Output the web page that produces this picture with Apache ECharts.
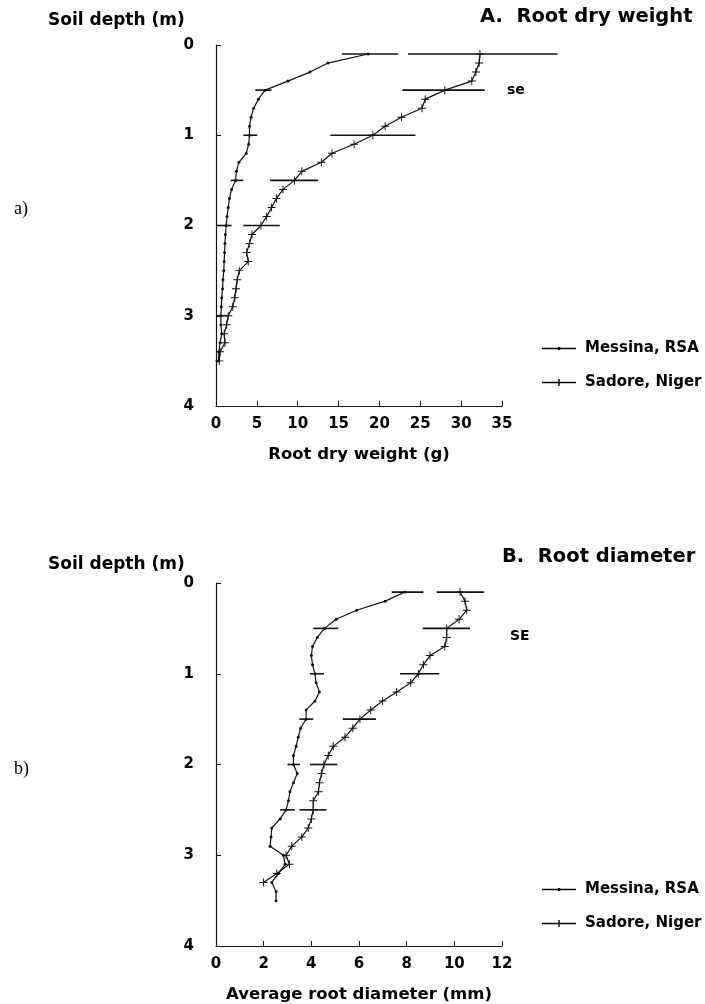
<!DOCTYPE html>
<html>
<head>
<meta charset="utf-8">
<script src="https://cdn.jsdelivr.net/npm/echarts@6/dist/echarts.min.js"></script>
<style>
  html, body { margin: 0; padding: 0; background: #fff; }
  #main { width: 705px; height: 1004px; }
</style>
</head>
<body>
<div id="main"></div>
<script>
// 深度 (m)
const depthMessinaA = [0.1,0.2,0.3,0.4,0.5,0.6,0.7,0.8,0.9,1.0,1.1,1.2,1.3,1.4,1.5,1.6,1.7,1.8,1.9,2.0,2.1,2.2,2.3,2.4,2.5,2.6,2.7,2.8,2.9,3.0,3.1,3.2,3.3,3.4,3.5]
const weightMessina = [18.6,13.7,11.5,8.8,6.0,5.2,4.6,4.3,4.1,4.1,4.0,3.7,2.8,2.5,2.4,1.9,1.65,1.5,1.35,1.25,1.15,1.1,1.05,1.0,0.95,0.85,0.8,0.7,0.65,0.6,0.6,0.7,0.5,0.35,0.3]
const depthSadoreA = [0.1,0.2,0.3,0.4,0.5,0.6,0.7,0.8,0.9,1.0,1.1,1.2,1.3,1.4,1.5,1.6,1.7,1.8,1.9,2.0,2.1,2.2,2.3,2.4,2.5,2.6,2.7,2.8,2.9,3.0,3.1,3.2,3.3,3.4,3.5]
const weightSadore = [32.3,32.2,31.8,31.3,28.0,25.6,25.2,22.7,20.7,19.2,16.9,14.2,12.9,10.5,9.6,8.2,7.4,6.8,6.2,5.5,4.4,4.1,3.75,3.95,2.85,2.6,2.45,2.3,2.05,1.5,1.3,1.0,1.1,0.5,0.4]

// se：[深度, 下限, 上限]
const seWeightMessina = [[0.1,15.4,22.3],[0.5,4.8,6.8],[1.0,3.35,5.05],[1.5,1.8,3.35],[2.0,0,1.9],[3.0,0,1.5]]
const seWeightSadore = [[0.1,23.5,41.8],[0.5,22.8,32.9],[1.0,14.0,24.4],[1.5,6.6,12.5],[2.0,3.35,7.8]]

const depthMessinaB = [0.1,0.2,0.3,0.4,0.5,0.6,0.7,0.8,0.9,1.0,1.1,1.2,1.3,1.4,1.5,1.6,1.7,1.8,1.9,2.0,2.1,2.2,2.3,2.4,2.5,2.6,2.7,2.8,2.9,3.0,3.1,3.2,3.3,3.4,3.5]
const diamMessina = [7.93,7.1,5.9,5.04,4.55,4.25,4.05,4.0,4.05,4.15,4.2,4.34,4.15,3.78,3.78,3.55,3.45,3.36,3.25,3.25,3.41,3.25,3.1,3.04,2.94,2.69,2.34,2.31,2.27,2.83,2.9,2.62,2.34,2.52,2.52]
const depthSadoreB = [0.1,0.2,0.3,0.4,0.5,0.6,0.7,0.8,0.9,1.0,1.1,1.2,1.3,1.4,1.5,1.6,1.7,1.8,1.9,2.0,2.1,2.2,2.3,2.4,2.5,2.6,2.7,2.8,2.9,3.0,3.1,3.2,3.3]
const diamSadore = [10.24,10.45,10.52,10.2,9.68,9.68,9.6,8.98,8.7,8.49,8.17,7.58,6.99,6.49,6.04,5.74,5.41,4.92,4.71,4.53,4.43,4.34,4.3,4.08,4.08,4.0,3.87,3.6,3.18,2.94,3.08,2.55,1.99]

const seDiamMessina = [[0.1,7.37,8.7],[0.5,4.08,5.13],[1.0,3.94,4.53],[1.5,3.5,4.08],[2.0,3.0,3.52],[2.5,2.69,3.31]]
const seDiamSadore = [[0.1,9.26,11.25],[0.5,8.67,10.66],[1.0,7.72,9.37],[1.5,5.32,6.71],[2.0,3.94,5.09],[2.5,3.5,4.64]]

const depthTicks = [0, 1, 2, 3, 4]

const ink = '#111'
const font = 'DejaVu Sans, Liberation Sans, sans-serif'
const serif = 'Liberation Serif, Times New Roman, serif'
const crossSymbol = 'path://M0,4.4H10V5.6H0Z M4.4,0H5.6V10H4.4Z'
// 图例图标：细线 + 小点 / 小十字
const legendDotIcon = 'path://M0,3.3H34V4.7H0Z M16,2.6H18.2V5.4H16Z'
const legendCrossIcon = 'path://M0,3.3H34V4.7H0Z M16.3,0.5H17.7V7.5H16.3Z'

const pairs = (depths, vals) => depths.map((d, i) => [vals[i], d])

const myChart = echarts.init(document.getElementById('main'))

const yAxisBase = (gridIndex) => ({
  gridIndex,
  type: 'value',
  inverse: true,
  min: 0,
  max: 4,
  interval: 1,
  axisLine: { show: true, lineStyle: { color: ink, width: 1.2 } },
  axisTick: { show: true, inside: true, length: 5, lineStyle: { color: ink } },
  axisLabel: {
    margin: 22, color: '#000', fontSize: 15, fontWeight: 'bold', fontFamily: font,
    formatter: v => depthTicks.indexOf(v) >= 0 ? String(v) : ''
  },
  splitLine: { show: false }
})

const xAxisBase = (gridIndex, max, interval, name) => ({
  gridIndex,
  type: 'value',
  min: 0,
  max,
  interval,
  name,
  nameLocation: 'middle',
  nameGap: 40,
  nameTextStyle: { color: '#000', fontSize: 16.5, fontWeight: 'bold', fontFamily: font },
  axisLine: { show: true, onZero: false, lineStyle: { color: ink, width: 1.2 } },
  axisTick: { show: true, inside: true, length: 5, lineStyle: { color: ink } },
  axisLabel: { margin: 11, color: '#000', fontSize: 15, fontWeight: 'bold', fontFamily: font },
  splitLine: { show: false }
})

const lineSeries = (name, idx, data, symbol, size) => ({
  name,
  type: 'line',
  xAxisIndex: idx,
  yAxisIndex: idx,
  data,
  symbol,
  symbolSize: size,
  showSymbol: true,
  lineStyle: { color: ink, width: 1.2 },
  itemStyle: { color: ink },
  animation: false
})

const seSeries = (idx, rows) => ({
  type: 'custom',
  xAxisIndex: idx,
  yAxisIndex: idx,
  clip: false,
  silent: true,
  data: rows.map(r => [r[1], r[0], r[2]]),
  encode: { x: [0, 2], y: 1 },
  renderItem: (params, api) => {
    const p1 = api.coord([api.value(0), api.value(1)])
    const p2 = api.coord([api.value(2), api.value(1)])
    return {
      type: 'line',
      shape: { x1: p1[0], y1: p1[1], x2: p2[0], y2: p2[1] },
      style: { stroke: ink, lineWidth: 1.6 }
    }
  },
  animation: false
})

const legendBase = (top) => ({
  orient: 'vertical',
  left: 537,
  top,
  itemWidth: 34,
  itemHeight: 8,
  itemGap: 19,
  itemStyle: { color: '#000' },
  data: [
    { name: 'Messina, RSA', icon: legendDotIcon },
    { name: 'Sadore, Niger', icon: legendCrossIcon }
  ],
  textStyle: { color: '#000', fontSize: 15, fontWeight: 'bold', fontFamily: font, padding: [0, 0, 0, 4] }
})

const textTitle = (text, left, top, size, family, weight) => ({
  text,
  left,
  top,
  padding: 0,
  textStyle: { color: '#000', fontSize: size, fontFamily: family || font, fontWeight: weight || 'bold' }
})

const option = {
  backgroundColor: '#fff',
  animation: false,
  title: [
    textTitle('Soil depth (m)', 48, 12, 17),
    textTitle('A.  Root dry weight', 480, 7, 19.5),
    textTitle('se', 507, 83, 14),
    textTitle('a)', 14, 200, 18, serif, 'normal'),
    textTitle('Soil depth (m)', 48, 556, 17),
    textTitle('B.  Root diameter', 502, 547, 19.5),
    textTitle('SE', 510, 629, 14),
    textTitle('b)', 14, 760, 18, serif, 'normal')
  ],
  legend: [legendBase(336), legendBase(877)],
  grid: [
    { left: 216, top: 45, width: 286, height: 361 },
    { left: 216, top: 583, width: 286, height: 363 }
  ],
  xAxis: [
    xAxisBase(0, 35, 5, 'Root dry weight (g)'),
    xAxisBase(1, 12, 2, 'Average root diameter (mm)')
  ],
  yAxis: [yAxisBase(0), yAxisBase(1)],
  series: [
    lineSeries('Messina, RSA', 0, pairs(depthMessinaA, weightMessina), 'circle', 3),
    lineSeries('Sadore, Niger', 0, pairs(depthSadoreA, weightSadore), crossSymbol, 8),
    seSeries(0, seWeightMessina),
    seSeries(0, seWeightSadore),
    lineSeries('Messina, RSA', 1, pairs(depthMessinaB, diamMessina), 'circle', 3),
    lineSeries('Sadore, Niger', 1, pairs(depthSadoreB, diamSadore), crossSymbol, 8),
    seSeries(1, seDiamMessina),
    seSeries(1, seDiamSadore)
  ]
}

myChart.setOption(option)
</script>
</body>
</html>
